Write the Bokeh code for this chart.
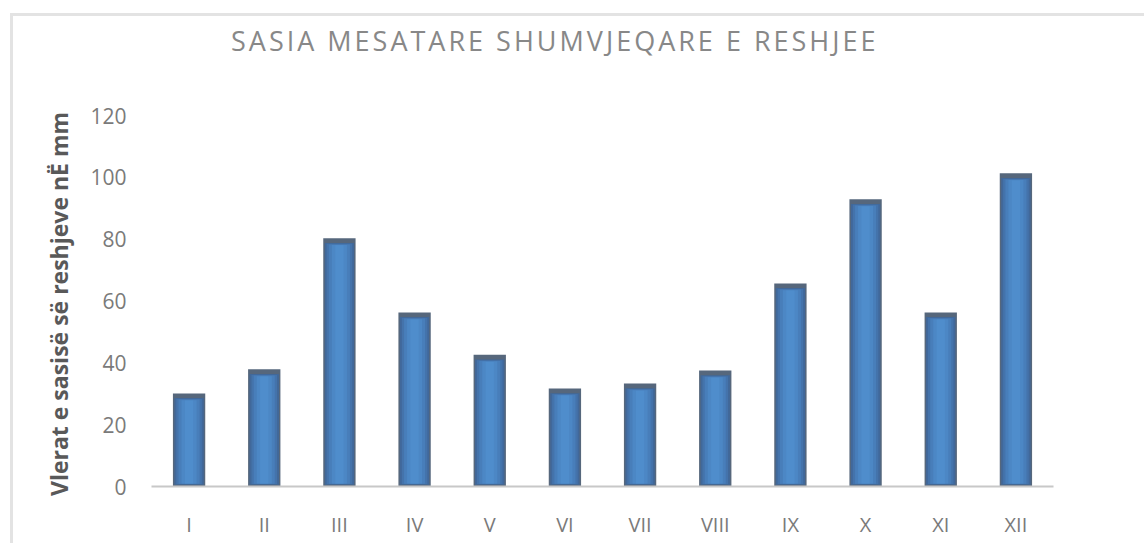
from bokeh.plotting import figure
from bokeh.models import FactorRange, Range1d, FixedTicker, ColumnDataSource, Div
from bokeh.layouts import column
from bokeh.embed import file_html
from bokeh.resources import INLINE

months = ["I", "II", "III", "IV", "V", "VI", "VII", "VIII", "IX", "X", "XI", "XII"]
precip = [30.1, 37.9, 80.3, 56.3, 42.6, 31.7, 33.3, 37.5, 65.7, 92.9, 56.3, 101.3]
y_ticks = [0, 20, 40, 60, 80, 100, 120]

title_text = "SASIA MESATARE SHUMVJEQARE E RESHJEE"
y_label = "Vlerat e sasisë së reshjeve nË  mm"

title_div = Div(
    text=title_text, width=1123, height=50,
    styles={"font-family": "'Open Sans'", "font-size": "27px",
            "letter-spacing": "3px", "line-height": "40px",
            "color": "#888888", "text-indent": "213px",
            "white-space": "nowrap"},
)

p = figure(
    x_range=FactorRange(*months),
    y_range=Range1d(0, 120),
    width=1123, height=467,
    output_backend="svg", toolbar_location=None,
    min_border_left=138, min_border_right=83,
    min_border_top=39, min_border_bottom=57,
)

# layered bars to imitate the shaded (gradient) fill
layers = [
    (0.43, "#56677c", 0.0, 0.0),
    (0.39, "#41689a", 1.5, 0.6),
    (0.34, "#4473ab", 1.8, 0.8),
    (0.28, "#487eba", 2.0, 0.9),
    (0.20, "#4c87c5", 2.2, 1.0),
    (0.11, "#4f8dcc", 2.3, 1.0),
]
for w, c, dtop, dbot in layers:
    src = ColumnDataSource(dict(x=months,
                                top=[v - dtop for v in precip],
                                bottom=[dbot] * len(precip)))
    p.vbar(x="x", top="top", bottom="bottom", width=w, source=src,
           fill_color=c, line_color=None)

p.xgrid.visible = False
p.ygrid.visible = False
p.outline_line_color = None

xa = p.xaxis[0]
xa.axis_line_color = "#c8c8c8"
xa.axis_line_width = 2
xa.major_tick_line_color = None
xa.major_tick_out = 0
xa.major_tick_in = 0
xa.minor_tick_line_color = None
xa.major_label_standoff = 24
xa.major_label_text_font = "Open Sans"
xa.major_label_text_font_size = "20px"
xa.major_label_text_color = "#7a7a7a"

ya = p.yaxis[0]
ya.ticker = FixedTicker(ticks=y_ticks)
ya.axis_line_color = None
ya.major_tick_line_color = None
ya.minor_tick_line_color = None
ya.major_tick_out = 0
ya.major_tick_in = 0
ya.major_label_standoff = 25
ya.major_label_text_font = "Open Sans"
ya.major_label_text_font_size = "21px"
ya.major_label_text_color = "#7a7a7a"
ya.axis_label = y_label
ya.axis_label_text_font = "Open Sans"
ya.axis_label_text_font_size = "23px"
ya.axis_label_text_font_style = "bold"
ya.axis_label_text_color = "#595959"
ya.axis_label_standoff = 12

layout = column(
    title_div, p,
    margin=(13, 0, 0, 10),
    styles={"border-top": "3px solid #e3e3e3", "border-left": "3px solid #e3e3e3"},
)

open("out.html", "w").write(file_html(layout, INLINE))
